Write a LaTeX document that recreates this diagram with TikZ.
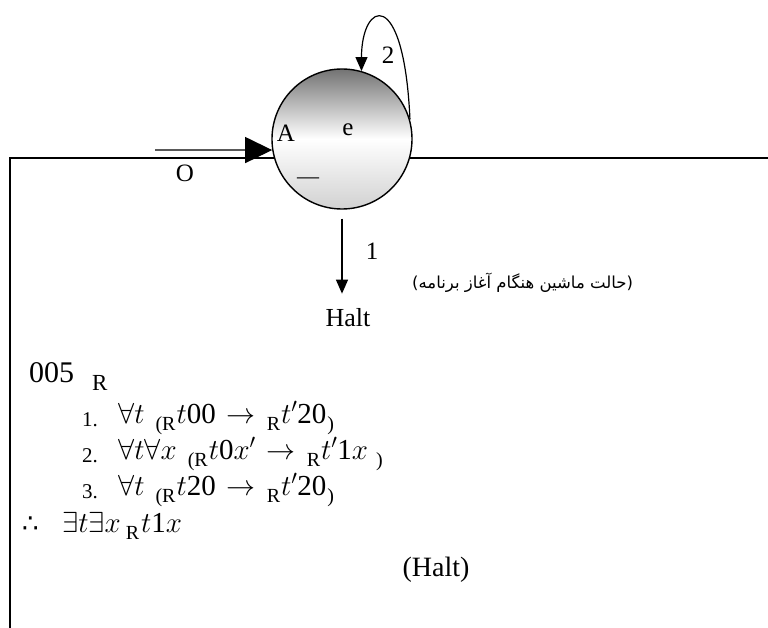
\documentclass[tikz,border=0pt]{standalone}
\usepackage{fix-cm}
\usepackage{fontspec}
\setmainfont{Liberation Serif}
\newfontfamily\fa[Script=Arabic]{DejaVu Sans}
\newfontfamily\faparen{DejaVu Sans}
\newfontfamily\symsans{DejaVu Sans}
\TeXXeTstate=1
\usetikzlibrary{arrows.meta}
\newcommand\lowpart[1]{\raisebox{-7pt}{\fontsize{20}{23}\selectfont #1}}
\newcommand\numpart[1]{\makebox[36pt][l]{\raisebox{-3pt}{\fontsize{21}{24}\selectfont #1}}}
\newcommand\gap{\hspace{11pt}}
\tikzset{
  lbl/.style={inner sep=0pt, font=\fontsize{25}{28}\selectfont},
  formula/.style={inner sep=0pt, anchor=base west, font=\fontsize{29}{33}\selectfont},
  arr/.style={line width=1.2pt, -{Triangle[length=14pt,width=12pt]}},
  frameline/.style={line width=1.8pt},
  state/.style={circle, draw, line width=1.4pt, minimum size=140pt, inner sep=0pt,
     top color=black!55, bottom color=black!18, middle color=white}
}
\begin{document}
\begin{tikzpicture}[x=1pt,y=-1pt]
\useasboundingbox (0,0) rectangle (768,628);
% frame
\draw[frameline] (10,628) -- (10,158) -- (768,158);
% state
\node[state] (s) at (342,139) {};
\node[lbl] (A) at (286,133) {A};
\node[lbl] (e) at (348,130) {e};
\node[lbl, font=\fontsize{22}{24}\selectfont] (dash) at (308,181) {—};
% input arrow
\coordinate (inA) at (155,150);
\draw[line width=1.3pt, -{Triangle[length=27pt,width=26pt]}] (inA) -- (s.189);
\node[lbl] (O) at (185,173) {O};
% self loop
\draw[arr] (s.16) .. controls +(-6,-135) and +(0,-70) .. (s.74);
\node[lbl] (two) at (388,55) {2};
% halt arrow
\node[lbl, font=\fontsize{26}{29}\selectfont] (halt) at (348,318) {Halt};
\draw[arr, shorten <=9pt, shorten >=15pt] (s.270) -- (s.270 |- halt.north);
\node[lbl] (one) at (372,251) {1};
% persian note
\node[inner sep=0pt, anchor=base west, font=\fontsize{16.5}{20}\selectfont] (note) at (412,289)
  {{\faparen(}{\fa\beginR حالت ماشین هنگام آغاز برنامه\endR}{\faparen)}};
% formulas
\node[formula, font=\fontsize{30}{34}\selectfont] (l0) at (29,382) {005\hspace{18pt}\raisebox{-8pt}{\fontsize{23}{26}\selectfont R}};
\node[formula] (l1) at (82,423) {\numpart{1.}$\forall t$\gap\lowpart{(R}\hspace{1pt}$t$00\gap$\rightarrow$\gap\lowpart{R}\hspace{1pt}$t'$20\hspace{1pt}\lowpart{)}};
\node[formula] (l2) at (82,459) {\numpart{2.}$\forall t\forall x$\gap\lowpart{(R}\hspace{1pt}$t$0$x'$\gap$\rightarrow$\gap\lowpart{R}\hspace{1pt}$t'$1$x$\hspace{8pt}\lowpart{)}};
\node[formula] (l3) at (82,495) {\numpart{3.}$\forall t$\gap\lowpart{(R}\hspace{1pt}$t$20\gap$\rightarrow$\gap\lowpart{R}\hspace{1pt}$t'$20\hspace{1pt}\lowpart{)}};
\node[formula] (l4) at (22,532) {\makebox[40pt][l]{\symsans\fontsize{26}{30}\selectfont ∴}$\exists t\exists x$\hspace{5pt}\lowpart{R}\hspace{2pt}$t$1$x$};
\node[lbl, font=\fontsize{28}{31}\selectfont, anchor=base] (haltp) at (436,576) {(Halt)};
\end{tikzpicture}
\end{document}
